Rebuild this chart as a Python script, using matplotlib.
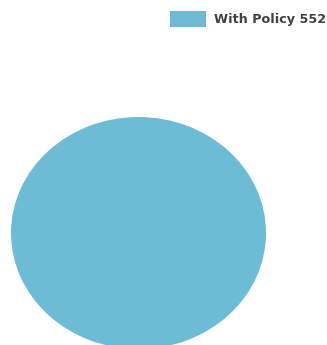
import matplotlib
matplotlib.use("Agg")
import matplotlib.pyplot as plt
from matplotlib.patches import Patch

labels = ["With Policy"]
values = [552]
colors = ["#6DBCD5"]

W, H = 327, 345
fig = plt.figure(figsize=(W / 100, H / 100), dpi=100)
# axes placed so the pie is an ellipse cut off at the bottom
left, right, top, bottom = 11, 266, 117, 349
ax = fig.add_axes([left / W, (H - bottom) / H, (right - left) / W, (bottom - top) / H])
ax.pie(values, colors=colors, startangle=90, radius=1,
       wedgeprops=dict(linewidth=0))
ax.set_aspect("auto")
ax.set_xlim(-1, 1)
ax.set_ylim(-1, 1)
ax.axis("off")

handles = [Patch(facecolor=c, edgecolor="none") for c in colors]
leg_labels = [f"{l} {v}" for l, v in zip(labels, values)]
leg = fig.legend(handles, leg_labels, loc="upper right",
                 bbox_to_anchor=(1.0 - 1 / W, 1.0 - 11 / H), frameon=False,
                 handlelength=2.8, handleheight=1.5, handletextpad=0.6,
                 borderaxespad=0.0, borderpad=0.0,
                 prop=dict(size=9.2, weight="bold"))
for t in leg.get_texts():
    t.set_color("#404040")

fig.savefig("out.png", dpi=100)
